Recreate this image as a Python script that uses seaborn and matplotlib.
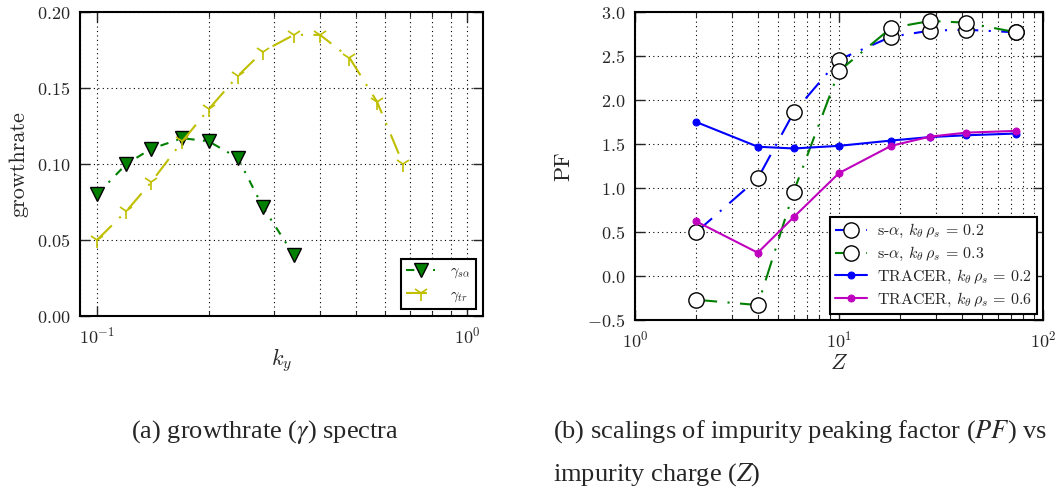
#Recreate two-panel figure: growthrate spectra and impurity peaking factor vs Z
import numpy as np
import pandas as pd
import seaborn as sns
import matplotlib
matplotlib.use("Agg")
import matplotlib.pyplot as plt
from matplotlib.ticker import FuncFormatter, LogLocator

# panel (a) data
ky_sa = [0.10, 0.12, 0.14, 0.17, 0.20, 0.24, 0.28, 0.34]
gamma_sa = [0.080, 0.100, 0.110, 0.117, 0.115, 0.104, 0.072, 0.040]
ky_tr = [0.10, 0.12, 0.14, 0.17, 0.20, 0.24, 0.28, 0.34, 0.40, 0.48, 0.57, 0.67]
gamma_tr = [0.050, 0.069, 0.088, 0.115, 0.136, 0.158, 0.174, 0.185, 0.185, 0.170, 0.141, 0.100]

# panel (b) data
Z = [2, 4, 6, 10, 18, 28, 42, 74]
pf_sa_02 = [0.50, 1.11, 1.86, 2.46, 2.72, 2.79, 2.80, 2.77]
pf_sa_03 = [-0.27, -0.33, 0.96, 2.33, 2.82, 2.90, 2.88, 2.77]
pf_tracer_02 = [1.75, 1.47, 1.45, 1.48, 1.54, 1.58, 1.60, 1.62]
pf_tracer_06 = [0.62, 0.265, 0.67, 1.17, 1.48, 1.585, 1.63, 1.65]

sns.set_style("ticks")
plt.rcParams['font.family'] = ['cmr10', 'DejaVu Serif']
plt.rcParams['mathtext.fontset'] = 'cm'
plt.rcParams['axes.formatter.use_mathtext'] = True

green = (0, 0.5, 0)
yellow = (0.75, 0.75, 0)
blue = (0, 0, 1)
magenta = (0.75, 0, 0.75)


def style_axes(ax):
    for s in ax.spines.values():
        s.set_linewidth(1.5)
        s.set_color("black")
    ax.tick_params(which="both", direction="in", top=True, right=True, labelsize=13, pad=7)
    ax.tick_params(which="major", length=7, width=1)
    ax.tick_params(which="minor", length=3.5, width=0.8)
    ax.grid(True, which="major", color="black", linestyle=(0, (1, 3)), linewidth=0.8)
    ax.xaxis.grid(True, which="minor", color="black", linestyle=(0, (1, 3)), linewidth=0.8)


fig = plt.figure(figsize=(10.6, 4.95), dpi=100)
ax1 = fig.add_axes([0.0755, 0.3616, 0.380, 0.614])
ax2 = fig.add_axes([0.599, 0.3535, 0.385, 0.622])

# (a) growthrate spectra
df_sa = pd.DataFrame({"ky": ky_sa, "gamma": gamma_sa})
df_tr = pd.DataFrame({"ky": ky_tr, "gamma": gamma_tr})
sns.lineplot(data=df_sa, x="ky", y="gamma", ax=ax1, color=green, linestyle=(0, (4, 4, 1, 4)),
             linewidth=1.5, marker="v", markersize=10, markerfacecolor=green,
             markeredgecolor="black", markeredgewidth=1, label=r"$\gamma_{s\alpha}$")
sns.lineplot(data=df_tr, x="ky", y="gamma", ax=ax1, color=yellow, linestyle=(0, (10, 5, 1, 5)),
             linewidth=1.5, marker="1", markersize=11, markeredgecolor=yellow,
             markeredgewidth=1.2, label=r"$\gamma_{tr}$")
ax1.set_xscale("log")
ax1.set_xlim(0.09, 1.1)
ax1.set_ylim(0, 0.2)
ax1.set_yticks([0.0, 0.05, 0.10, 0.15, 0.20])
ax1.yaxis.set_major_formatter(FuncFormatter(lambda v, p: f"${v:.2f}$"))
ax1.set_xlabel(r"$k_y$", fontsize=16, labelpad=0)
ax1.set_ylabel("growthrate", fontsize=16, labelpad=6)
style_axes(ax1)
leg1 = ax1.legend(loc="lower right", fontsize=10.5, numpoints=1, handlelength=2.0,
                  fancybox=False, framealpha=1, edgecolor="black", borderaxespad=0.5,
                  handletextpad=1.0, borderpad=0.35)
leg1.get_frame().set_linewidth(1.5)

# (b) peaking factor vs impurity charge
open_circle = dict(marker="o", markersize=11, markerfacecolor="white",
                   markeredgecolor="black", markeredgewidth=1)
sns.lineplot(x=Z, y=pf_sa_02, ax=ax2, color=blue, linestyle=(0, (10, 5, 1, 5)), linewidth=1.5,
             label=r"s-$\alpha$, $k_\theta\,\rho_s\, =\, 0.2$", **open_circle)
sns.lineplot(x=Z, y=pf_sa_03, ax=ax2, color=green, linestyle=(0, (10, 5, 1, 5)), linewidth=1.5,
             label=r"s-$\alpha$, $k_\theta\,\rho_s\, =\, 0.3$", **open_circle)
sns.lineplot(x=Z, y=pf_tracer_02, ax=ax2, color=blue, linewidth=1.5, marker="o", markersize=5,
             markerfacecolor=blue, markeredgecolor=blue,
             label=r"TRACER, $k_\theta\,\rho_s\, =\, 0.2$")
sns.lineplot(x=Z, y=pf_tracer_06, ax=ax2, color=magenta, linewidth=1.5, marker="o", markersize=5,
             markerfacecolor=magenta, markeredgecolor=magenta,
             label=r"TRACER, $k_\theta\,\rho_s\, =\, 0.6$")
ax2.set_xscale("log")
ax2.set_xlim(1, 100)
ax2.set_ylim(-0.5, 3.0)
ax2.set_yticks(np.arange(-0.5, 3.01, 0.5))
ax2.yaxis.set_major_formatter(FuncFormatter(lambda v, p: f"${v:.1f}$"))
ax2.xaxis.set_minor_locator(LogLocator(base=10, subs=np.arange(2, 10)))
ax2.set_xlabel(r"$Z$", fontsize=16, labelpad=2)
ax2.set_ylabel("PF", fontsize=16, labelpad=10)
style_axes(ax2)
leg2 = ax2.legend(loc="lower right", fontsize=11.5, numpoints=1, handlelength=2.0,
                  fancybox=False, framealpha=1, edgecolor="black", borderaxespad=0.35,
                  labelspacing=0.3, borderpad=0.35, handletextpad=0.6)
leg2.get_frame().set_linewidth(1.5)

# sub-captions
cap = dict(family="Liberation Serif", fontsize=19, math_fontfamily="stix")
fig.text(0.124, 1 - 432 / 495, r"(a) growthrate ($\gamma$) spectra", va="center", **cap)
fig.text(0.522, 1 - 432 / 495, "(b) scalings of impurity peaking factor ($PF$) vs",
         va="center", **cap)
fig.text(0.522, 1 - 475 / 495, "impurity charge ($Z$)", va="center", **cap)

fig.savefig("out.png", dpi=100)
